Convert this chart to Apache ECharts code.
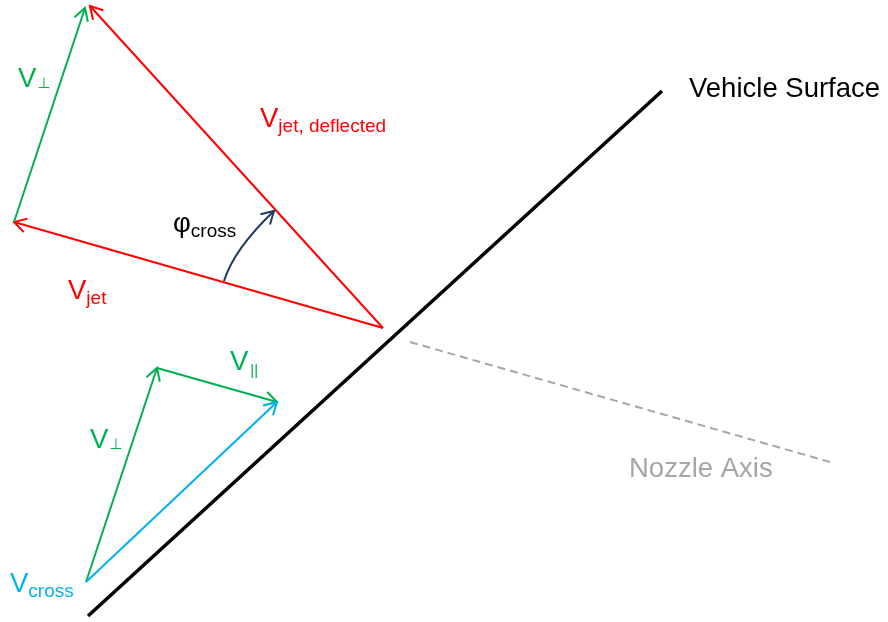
<!DOCTYPE html>
<html><head><meta charset="utf-8">
<script src="https://cdn.jsdelivr.net/npm/echarts@6/dist/echarts.min.js"></script>
<style>html,body{margin:0;padding:0;background:#fff}#c{width:888px;height:622px}</style>
</head><body><div id="c"></div>
<script>
// Diagram geometry, in the figure's own coordinate space (x right, y down)
const surfaceLine  = [[88, 616, 662, 91]];
const nozzleAxis   = [[410, 342, 830, 462]];
const jetVectors   = [[383, 328, 14, 222], [383, 328, 90, 6]];            // V_jet, V_jet,deflected
const perpVectors  = [[14, 222, 85, 8], [86, 582, 157, 368], [157, 368, 277, 402]]; // V_perp, V_perp, V_par
const crossVectors = [[86, 582, 277, 402]];                                // V_cross
const angleArc     = [[224, 281, 234, 249, 274, 211]];                     // start, control, end
// Labels
const labelMain   = ['V', 'V', 'V', 'φ', 'V', 'V', 'V', 'Vehicle Surface', 'Nozzle Axis'];
const labelSub    = ['⊥', 'jet, deflected', 'jet', 'cross', '⊥', '||', 'cross', '', ''];
const labelAnchor = [[18, 87], [260, 127], [68, 299], [173, 232], [90, 448], [230, 370], [10, 592], [689, 97], [629, 477]];
const labelKind   = ['green', 'red', 'red', 'black', 'green', 'green', 'blue', 'black', 'gray'];

const COLORS = {red: '#FF0000', green: '#00B050', blue: '#00B0F0', black: '#000000', gray: '#A6A6A6', navy: '#1F3864'};
const FONT = '"Liberation Sans", Arial, "DejaVu Sans", sans-serif';
const MAIN_SIZE = 27.5;
const SUB_STYLE = {'⊥': {size: 15, dy: 1, gap: 1}, '||': {size: 15, dy: 5, gap: 2}, def: {size: 19, dy: 5, gap: 0}};

const mctx = document.createElement('canvas').getContext('2d');
function textWidth(t, size) { mctx.font = size + 'px ' + FONT; return mctx.measureText(t).width; }

function arrowHead(tip, from, color, width) {
  const dx = tip[0] - from[0], dy = tip[1] - from[1];
  const len = Math.hypot(dx, dy), ux = dx / len, uy = dy / len;
  const L = 14, th = 30 * Math.PI / 180, c = Math.cos(th), s = Math.sin(th);
  const a1 = [tip[0] - L * (ux * c - uy * s), tip[1] - L * (uy * c + ux * s)];
  const a2 = [tip[0] - L * (ux * c + uy * s), tip[1] - L * (uy * c - ux * s)];
  return {type: 'polyline', shape: {points: [a1, tip, a2]},
          style: {stroke: color, lineWidth: width, fill: null, lineJoin: 'miter'}};
}

function segmentSeries(data, color, width, arrow, dash) {
  return {
    type: 'custom', coordinateSystem: 'cartesian2d', data: data, silent: true,
    encode: {x: [0, 2], y: [1, 3]},
    renderItem: function (params, api) {
      const p1 = api.coord([api.value(0), api.value(1)]);
      const p2 = api.coord([api.value(2), api.value(3)]);
      const children = [{type: 'line', shape: {x1: p1[0], y1: p1[1], x2: p2[0], y2: p2[1]},
        style: {stroke: color, lineWidth: width, lineDash: dash || null, lineCap: 'butt'}}];
      if (arrow) children.push(arrowHead(p2, p1, color, width));
      return {type: 'group', children: children};
    }
  };
}

const arcSeries = {
  type: 'custom', coordinateSystem: 'cartesian2d', data: angleArc, silent: true,
  encode: {x: [0, 2, 4], y: [1, 3, 5]},
  renderItem: function (params, api) {
    const a = api.coord([api.value(0), api.value(1)]);
    const c = api.coord([api.value(2), api.value(3)]);
    const b = api.coord([api.value(4), api.value(5)]);
    return {type: 'group', children: [
      {type: 'bezierCurve', shape: {x1: a[0], y1: a[1], cpx1: c[0], cpy1: c[1], x2: b[0], y2: b[1]},
       style: {stroke: COLORS.navy, lineWidth: 2, fill: null}},
      arrowHead(b, c, COLORS.navy, 2)
    ]};
  }
};

const labelSeries = {
  type: 'custom', coordinateSystem: 'cartesian2d', silent: true,
  data: labelAnchor.map((p, i) => [p[0], p[1], i]),
  renderItem: function (params, api) {
    const i = api.value(2);
    const p = api.coord([api.value(0), api.value(1)]);
    const color = COLORS[labelKind[i]];
    const k = 0.28;
    const main = labelMain[i], sub = labelSub[i];
    const children = [{type: 'text', x: p[0], y: p[1] - k * MAIN_SIZE,
      style: {text: main, fill: color, font: MAIN_SIZE + 'px ' + FONT, align: 'left', verticalAlign: 'middle'}}];
    if (sub) {
      const st = SUB_STYLE[sub] || SUB_STYLE.def;
      const sx = p[0] + textWidth(main, MAIN_SIZE) + st.gap;
      const sy = p[1] + st.dy - k * st.size;
      children.push({type: 'text', x: sx, y: sy,
        style: {text: sub, fill: color, font: st.size + 'px ' + FONT, align: 'left', verticalAlign: 'middle'}});
    }
    return {type: 'group', children: children};
  }
};

const chart = echarts.init(document.getElementById('c'), null, {renderer: 'canvas'});
chart.setOption({
  animation: false,
  backgroundColor: '#ffffff',
  grid: {left: 0, right: 0, top: 0, bottom: 0},
  xAxis: {type: 'value', min: 0, max: 888, show: false},
  yAxis: {type: 'value', min: 0, max: 622, inverse: true, show: false},
  series: [
    segmentSeries(nozzleAxis, COLORS.gray, 2, false, [8, 5]),
    segmentSeries(surfaceLine, COLORS.black, 3.5, false),
    segmentSeries(jetVectors, COLORS.red, 2, true),
    segmentSeries(perpVectors, COLORS.green, 2, true),
    segmentSeries(crossVectors, COLORS.blue, 2, true),
    arcSeries,
    labelSeries
  ]
});
</script></body></html>
